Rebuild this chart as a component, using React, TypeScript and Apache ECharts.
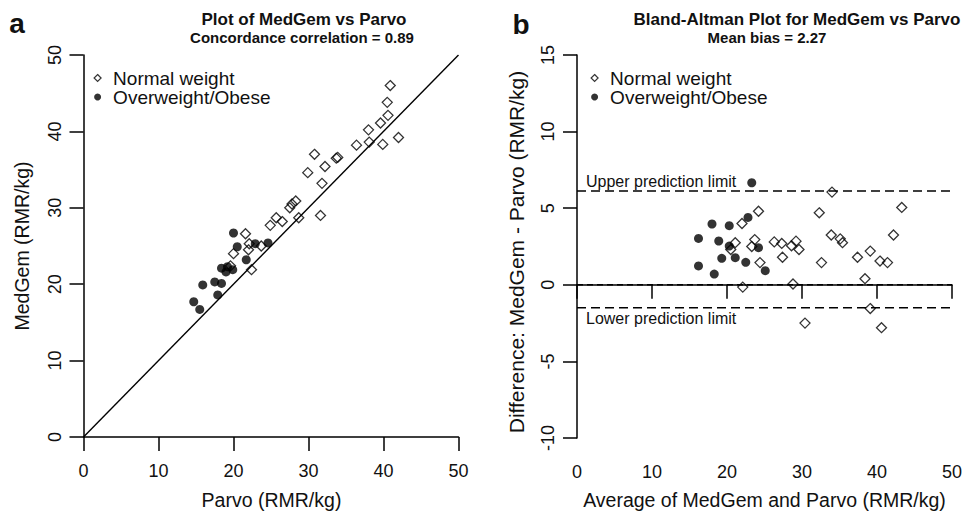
import React, { useEffect, useRef } from "react";
import * as echarts from "echarts";

// Panel a: Parvo (x) vs MedGem (y)
const parvoNormal = [40.9, 40.5, 40.6, 39.6, 38.0, 42.0, 38.1, 39.9, 36.4, 33.9, 33.7, 30.8, 32.2, 29.9, 31.8, 31.6, 28.3, 27.8, 27.5, 28.7, 25.7, 26.5, 24.9, 21.6, 22.1, 22.0, 23.7, 20.0, 19.6, 22.4];
const medgemNormal = [46.0, 43.8, 42.1, 41.1, 40.2, 39.2, 38.6, 38.3, 38.2, 36.6, 36.5, 37.0, 35.4, 34.6, 33.2, 29.0, 30.9, 30.5, 30.0, 28.7, 28.7, 28.2, 27.7, 26.6, 25.3, 24.5, 25.0, 24.0, 22.4, 21.9];
const parvoOver = [20.0, 20.5, 22.9, 24.6, 21.7, 18.4, 19.0, 19.9, 19.2, 15.9, 17.5, 18.4, 17.9, 14.7, 15.5];
const medgemOver = [26.7, 24.9, 25.3, 25.4, 23.2, 22.1, 21.6, 21.9, 22.3, 19.9, 20.3, 20.1, 18.6, 17.7, 16.7];

// Panel b: average (x) vs difference (y)
const avgNormal = [24.2, 22.0, 21.1, 20.5, 23.7, 23.3, 24.4, 26.3, 27.3, 28.6, 29.2, 29.6, 27.4, 22.1, 28.8, 30.4, 32.3, 34.0, 33.9, 35.1, 35.4, 32.6, 37.4, 39.1, 40.4, 41.4, 38.4, 39.1, 40.6, 42.2, 43.3];
const diffNormal = [4.8, 4.0, 2.75, 2.3, 2.95, 2.5, 1.45, 2.8, 2.7, 2.55, 2.85, 2.3, 1.8, -0.15, 0.05, -2.5, 4.7, 6.05, 3.25, 3.0, 2.75, 1.45, 1.8, 2.2, 1.55, 1.45, 0.4, -1.55, -2.8, 3.25, 5.05];
const avgOver = [23.3, 22.8, 18.0, 20.3, 16.2, 18.9, 20.3, 24.2, 19.3, 21.1, 22.5, 16.2, 18.3, 25.1];
const diffOver = [6.66, 4.4, 3.97, 3.86, 3.03, 2.86, 2.53, 2.42, 1.73, 1.77, 1.47, 1.23, 0.7, 0.92];

const upperLimit = 6.12;
const zeroLine = 0;
const lowerLimit = -1.5;

const seriesNames = ["Normal weight", "Overweight/Obese"];
const ticksA = { min: 0, max: 50, interval: 10 };
const ticksBx = { min: 0, max: 50, interval: 10 };
const ticksBy = { min: -10, max: 15, interval: 5 };

const zip = (a: number[], b: number[]) => a.map((v, i) => [v, b[i]]);

const FONT = '"Liberation Sans", Arial, Helvetica, sans-serif';
const INK = "#000";

export default function App() {
  const ref = useRef<HTMLDivElement>(null);

  useEffect(() => {
    if (!ref.current) return;
    const chart = echarts.init(ref.current, null, { renderer: "svg" });

    const axisCommon = {
      type: "value",
      splitLine: { show: false },
      axisLine: { show: true, lineStyle: { color: INK, width: 1.5 } },
      axisTick: { show: true, inside: false, length: 14, lineStyle: { color: INK, width: 1.5 } },
    };
    const xLabel = { fontSize: 18, fontFamily: FONT, color: "#111", margin: 25 };
    const yLabel = { fontSize: 18, fontFamily: FONT, color: "#111", margin: 20, rotate: 90 };

    const txt = (text: string, x: number, y: number, size: number, bold = false, align = "center", rotation = 0) => ({
      type: "text",
      x,
      y,
      rotation,
      silent: true,
      style: {
        text,
        fill: "#111",
        fontSize: size,
        fontFamily: FONT,
        fontWeight: bold ? "bold" : "normal",
        align,
        verticalAlign: "middle",
        textAlign: align,
        textVerticalAlign: "middle",
      },
    });

    const diamondStyle = { color: "rgba(255,255,255,0)", borderColor: INK, borderWidth: 1.3 };
    const circleStyle = { color: INK, borderColor: INK, borderWidth: 0 };

    const legendCommon = {
      orient: "vertical",
      padding: 0,
      itemGap: 0,
      itemWidth: 7,
      itemHeight: 7,
      selectedMode: false,
      textStyle: { fontSize: 19, fontFamily: FONT, color: "#111", lineHeight: 19, padding: [0, 0, 0, 7] },
      data: [
        { name: seriesNames[0], icon: "diamond", itemStyle: { color: "rgba(255,255,255,0)", borderColor: INK, borderWidth: 1.2 } },
        { name: seriesNames[1], icon: "circle", itemStyle: { color: INK, borderWidth: 0 } },
      ],
    };

    const hline = (y: number, dash: number[]) => ({
      type: "line",
      xAxisIndex: 1,
      yAxisIndex: 1,
      data: [[0, y], [50, y]],
      symbol: "none",
      silent: true,
      lineStyle: { color: INK, width: 1.4, type: dash },
      z: 1,
    });

    chart.setOption({
      animation: false,
      backgroundColor: "#fff",
      grid: [
        { left: 83.5, top: 55, width: 375, height: 382 },
        { left: 577, top: 55, width: 375, height: 383 },
      ],
      xAxis: [
        { ...axisCommon, gridIndex: 0, ...ticksA, axisLabel: xLabel },
        { ...axisCommon, gridIndex: 1, ...ticksBx, axisLabel: xLabel },
      ],
      yAxis: [
        { ...axisCommon, gridIndex: 0, ...ticksA, axisLabel: yLabel },
        { ...axisCommon, gridIndex: 1, ...ticksBy, axisLabel: yLabel },
      ],
      legend: [
        { ...legendCommon, left: 93.5, top: 68.5 },
        { ...legendCommon, left: 590.5, top: 68.5 },
      ],
      series: [
        {
          type: "line",
          xAxisIndex: 0,
          yAxisIndex: 0,
          data: [[0, 0], [50, 50]],
          symbol: "none",
          silent: true,
          lineStyle: { color: INK, width: 1.4 },
          z: 1,
        },
        {
          name: seriesNames[0],
          type: "scatter",
          xAxisIndex: 0,
          yAxisIndex: 0,
          data: zip(parvoNormal, medgemNormal),
          symbol: "diamond",
          symbolSize: 10,
          itemStyle: diamondStyle,
          z: 3,
        },
        {
          name: seriesNames[1],
          type: "scatter",
          xAxisIndex: 0,
          yAxisIndex: 0,
          data: zip(parvoOver, medgemOver),
          symbol: "circle",
          symbolSize: 9,
          itemStyle: circleStyle,
          z: 4,
        },
        hline(upperLimit, [9, 5]),
        hline(zeroLine, [6, 4]),
        hline(lowerLimit, [9, 5]),
        {
          name: seriesNames[0],
          type: "scatter",
          xAxisIndex: 1,
          yAxisIndex: 1,
          data: zip(avgNormal, diffNormal),
          symbol: "diamond",
          symbolSize: 10,
          itemStyle: diamondStyle,
          z: 3,
        },
        {
          name: seriesNames[1],
          type: "scatter",
          xAxisIndex: 1,
          yAxisIndex: 1,
          data: zip(avgOver, diffOver),
          symbol: "circle",
          symbolSize: 9,
          itemStyle: circleStyle,
          z: 4,
        },
      ],
      graphic: [
        txt("a", 17, 23, 28, true),
        txt("b", 521, 24, 28, true),
        txt("Plot of MedGem vs Parvo", 304, 19.5, 17, true),
        txt("Concordance correlation = 0.89", 302, 37.5, 15, true),
        txt("Bland-Altman Plot for MedGem vs Parvo", 797, 19.5, 17, true),
        txt("Mean bias = 2.27", 767, 37.5, 15, true),
        txt("Parvo (RMR/kg)", 271.5, 500, 19.5),
        txt("Average of MedGem and Parvo (RMR/kg)", 764.5, 500, 19.5),
        txt("MedGem (RMR/kg)", 21.7, 246, 19.5, false, "center", Math.PI / 2),
        txt("Difference: MedGem - Parvo (RMR/kg)", 516.7, 252, 21, false, "center", Math.PI / 2),
        txt("Upper prediction limit", 586, 181.7, 16, false, "left"),
        txt("Lower prediction limit", 586, 318.3, 16, false, "left"),
      ],
    });

    return () => chart.dispose();
  }, []);

  return (
    <div
      ref={ref}
      style={{ position: "fixed", left: 0, top: 0, width: 974, height: 512, background: "#fff" }}
    />
  );
}
